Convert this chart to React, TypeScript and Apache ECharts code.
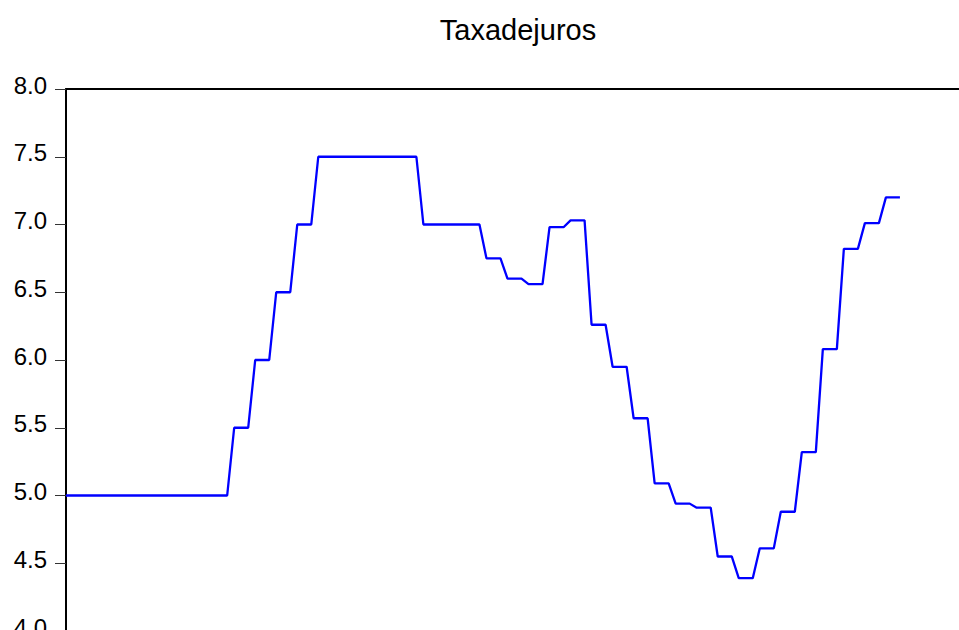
import React, { useEffect, useRef } from "react";
import * as echarts from "echarts";

// Monthly periods, 2013M01 .. 2022M12
const years = [2013, 2014, 2015, 2016, 2017, 2018, 2019, 2020, 2021, 2022];
const monthNames = ["01", "02", "03", "04", "05", "06", "07", "08", "09", "10", "11", "12"];
const periods: string[] = [];
years.forEach((y) => monthNames.forEach((m) => periods.push(`${y}M${m}`)));

// Taxa de juros (% a.a.), monthly
const taxa = [
  5.0, 5.0, 5.0, 5.0, 5.0, 5.0, 5.0, 5.0, 5.0, 5.0, 5.0, 5.0,
  5.0, 5.0, 5.0, 5.0, 5.0, 5.0, 5.0, 5.0, 5.0, 5.0, 5.0, 5.0,
  5.5, 5.5, 5.5, 6.0, 6.0, 6.0, 6.5, 6.5, 6.5, 7.0, 7.0, 7.0,
  7.5, 7.5, 7.5, 7.5, 7.5, 7.5, 7.5, 7.5, 7.5, 7.5, 7.5, 7.5,
  7.5, 7.5, 7.5, 7.0, 7.0, 7.0, 7.0, 7.0, 7.0, 7.0, 7.0, 7.0,
  6.75, 6.75, 6.75, 6.6, 6.6, 6.6, 6.56, 6.56, 6.56, 6.98, 6.98, 6.98,
  7.03, 7.03, 7.03, 6.26, 6.26, 6.26, 5.95, 5.95, 5.95, 5.57, 5.57, 5.57,
  5.09, 5.09, 5.09, 4.94, 4.94, 4.94, 4.91, 4.91, 4.91, 4.55, 4.55, 4.55,
  4.39, 4.39, 4.39, 4.61, 4.61, 4.61, 4.88, 4.88, 4.88, 5.32, 5.32, 5.32,
  6.08, 6.08, 6.08, 6.82, 6.82, 6.82, 7.01, 7.01, 7.01, 7.2, 7.2, 7.2,
];

const yTicks = ["4.0", "4.5", "5.0", "5.5", "6.0", "6.5", "7.0", "7.5", "8.0"];
const titleText = "Taxadejuros";

export default function App() {
  const ref = useRef<HTMLDivElement>(null);

  useEffect(() => {
    if (!ref.current) return;
    const chart = echarts.init(ref.current, null, { renderer: "svg" });
    const data = taxa.map((v, i) => [i, v]);
    chart.setOption({
      animation: false,
      backgroundColor: "#ffffff",
      title: {
        text: titleText,
        left: "center",
        top: 10,
        textStyle: {
          fontFamily: "Liberation Sans, Arial, sans-serif",
          fontSize: 29,
          fontWeight: "normal",
          color: "#000000",
        },
      },
      tooltip: {
        trigger: "axis",
        formatter: (p: any) => {
          const i = p[0].value[0];
          return `${periods[i]}: ${p[0].value[1]}`;
        },
      },
      grid: {
        left: 66,
        right: 66,
        top: 89,
        bottom: 69,
        show: false,
      },
      xAxis: [
        {
          type: "value",
          min: 0,
          max: 129,
          position: "bottom",
          axisLine: { show: false },
          axisTick: { show: false },
          axisLabel: { show: false },
          splitLine: { show: false },
        },
        {
          type: "value",
          min: 0,
          max: 129,
          position: "top",
          axisLine: { show: true, lineStyle: { color: "#000000", width: 2 } },
          axisTick: { show: false },
          axisLabel: { show: false },
          splitLine: { show: false },
        },
      ],
      yAxis: {
        type: "value",
        min: 4,
        max: 8,
        interval: 0.5,
        axisLine: { show: true, lineStyle: { color: "#000000", width: 2 } },
        axisTick: {
          show: true,
          inside: false,
          length: 11,
          lineStyle: { color: "#333333", width: 1 },
        },
        axisLabel: {
          margin: 19,
          color: "#000000",
          fontFamily: "Liberation Sans, Arial, sans-serif",
          fontSize: 24,
          verticalAlign: "bottom",
          lineHeight: 8,
          formatter: (v: number) => yTicks[Math.round((v - 4) / 0.5)] ?? v.toFixed(1),
        },
        splitLine: { show: false },
      },
      series: [
        {
          type: "line",
          name: titleText,
          data,
          xAxisIndex: 0,
          showSymbol: false,
          lineStyle: { color: "#0000ff", width: 2.3 },
          itemStyle: { color: "#0000ff" },
        },
      ],
    });
    return () => chart.dispose();
  }, []);

  return (
    <div
      style={{
        position: "fixed",
        left: 0,
        top: 0,
        width: 959,
        height: 630,
        overflow: "hidden",
        background: "#ffffff",
      }}
    >
      <div ref={ref} style={{ width: 1036, height: 700 }} />
    </div>
  );
}
